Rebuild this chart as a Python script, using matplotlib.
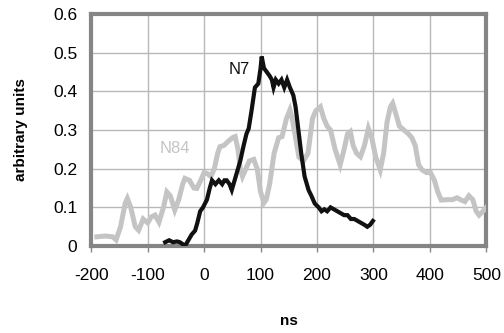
import matplotlib.pyplot as plt

plt.rcParams['font.family'] = ['Liberation Sans', 'DejaVu Sans']
plt.rcParams['axes.unicode_minus'] = False

# N84 trace (gray)
n84_x = [-190, -175, -162, -156, -148, -140, -136, -130, -122, -116, -108, -100, -94,
         -87, -80, -72, -66, -60, -52, -45, -38, -34, -26, -18, -13, -6, 0, 5, 12,
         18, 24, 28, 35, 42, 50, 55, 60, 64, 68, 74, 80, 88, 94, 100, 106, 110, 116,
         124, 132, 138, 146, 152, 156, 162, 168, 176, 184, 192, 198, 206, 212, 218,
         224, 232, 241, 248, 254, 259, 264, 270, 277, 284, 291, 297, 304, 312, 318,
         324, 330, 334, 340, 346, 354, 362, 368, 374, 380, 386, 394, 401, 408, 414,
         420, 430, 440, 448, 454, 462, 469, 476, 482, 487, 494, 500]
n84_y = [0.024, 0.026, 0.024, 0.016, 0.05, 0.11, 0.123, 0.1, 0.05, 0.041, 0.07, 0.06,
         0.075, 0.08, 0.062, 0.1, 0.14, 0.13, 0.093, 0.12, 0.16, 0.175, 0.17, 0.15,
         0.149, 0.17, 0.19, 0.188, 0.18, 0.2, 0.24, 0.257, 0.26, 0.27, 0.28, 0.283,
         0.25, 0.2, 0.18, 0.2, 0.22, 0.224, 0.2, 0.14, 0.112, 0.12, 0.16, 0.24, 0.28,
         0.283, 0.33, 0.352, 0.33, 0.28, 0.23, 0.22, 0.24, 0.33, 0.35, 0.36, 0.33,
         0.31, 0.3, 0.25, 0.21, 0.25, 0.29, 0.296, 0.26, 0.24, 0.231, 0.26, 0.304,
         0.28, 0.23, 0.197, 0.24, 0.32, 0.36, 0.369, 0.34, 0.31, 0.3, 0.29, 0.28,
         0.26, 0.21, 0.197, 0.19, 0.19, 0.17, 0.14, 0.119, 0.12, 0.12, 0.125, 0.12,
         0.115, 0.13, 0.12, 0.09, 0.08, 0.09, 0.1]

# N7 trace (black)
n7_x = [-69, -62, -55, -48, -43, -38, -34, -28, -22, -16, -12, -7, -2, 5, 10, 14,
        20, 26, 32, 36, 40, 45, 49, 54, 58, 64, 70, 75, 79, 84, 90, 96, 100, 102,
        106, 111, 116, 120, 123, 127, 132, 137, 142, 147, 152, 158, 162, 167, 172,
        178, 185, 190, 196, 203, 208, 213, 218, 224, 230, 236, 242, 248, 254, 260,
        266, 272, 278, 284, 289, 294, 299]
n7_y = [0.01, 0.015, 0.01, 0.012, 0.01, 0.005, 0.0, 0.015, 0.03, 0.04, 0.06, 0.09,
        0.1, 0.12, 0.15, 0.17, 0.16, 0.17, 0.16, 0.17, 0.17, 0.16, 0.145, 0.17,
        0.19, 0.22, 0.26, 0.29, 0.304, 0.35, 0.41, 0.42, 0.46, 0.49, 0.46, 0.45,
        0.44, 0.43, 0.41, 0.43, 0.42, 0.43, 0.41, 0.43, 0.41, 0.39, 0.36, 0.3,
        0.24, 0.18, 0.145, 0.13, 0.11, 0.1, 0.09, 0.095, 0.09, 0.1, 0.095, 0.09,
        0.085, 0.08, 0.08, 0.07, 0.07, 0.065, 0.06, 0.055, 0.05, 0.055, 0.065]

x_ticks = [-200, -100, 0, 100, 200, 300, 400, 500]
y_ticks = [0, 0.1, 0.2, 0.3, 0.4, 0.5, 0.6]
y_labels = ['0', '0.1', '0.2', '0.3', '0.4', '0.5', '0.6']

fig = plt.figure(figsize=(5.04, 3.33), dpi=100)
ax = fig.add_axes([0.181, 0.261, 0.784, 0.697])

ax.plot(n84_x, n84_y, color='#c4c4c4', lw=3.6, solid_joinstyle='miter', zorder=3)
ax.plot(n7_x, n7_y, color='#111111', lw=3.0, solid_joinstyle='miter', zorder=4)

ax.text(-51, 0.253, 'N84', color='#c4c4c4', fontsize=12, ha='center', va='center')
ax.text(63, 0.457, 'N7', color='#111111', fontsize=12, ha='center', va='center')

ax.set_xlim(-200, 500)
ax.set_ylim(0, 0.6)
ax.set_xticks(x_ticks)
ax.set_yticks(y_ticks)
ax.set_yticklabels(y_labels)
ax.grid(True, color='#b8b8b8', lw=1.0)
ax.set_axisbelow(True)

for sp in ax.spines.values():
    sp.set_color('#858585')
    sp.set_linewidth(3.0)

ax.tick_params(axis='x', direction='out', length=4, width=1, color='#888888',
               labelsize=12.5, pad=12)
ax.tick_params(axis='y', length=0, labelsize=12.5, pad=10)

ax.set_xlabel('ns', fontsize=11, fontweight='bold', labelpad=22)
ax.set_ylabel('arbitrary units', fontsize=11, fontweight='bold', labelpad=18)

fig.savefig('out.png', dpi=100)
